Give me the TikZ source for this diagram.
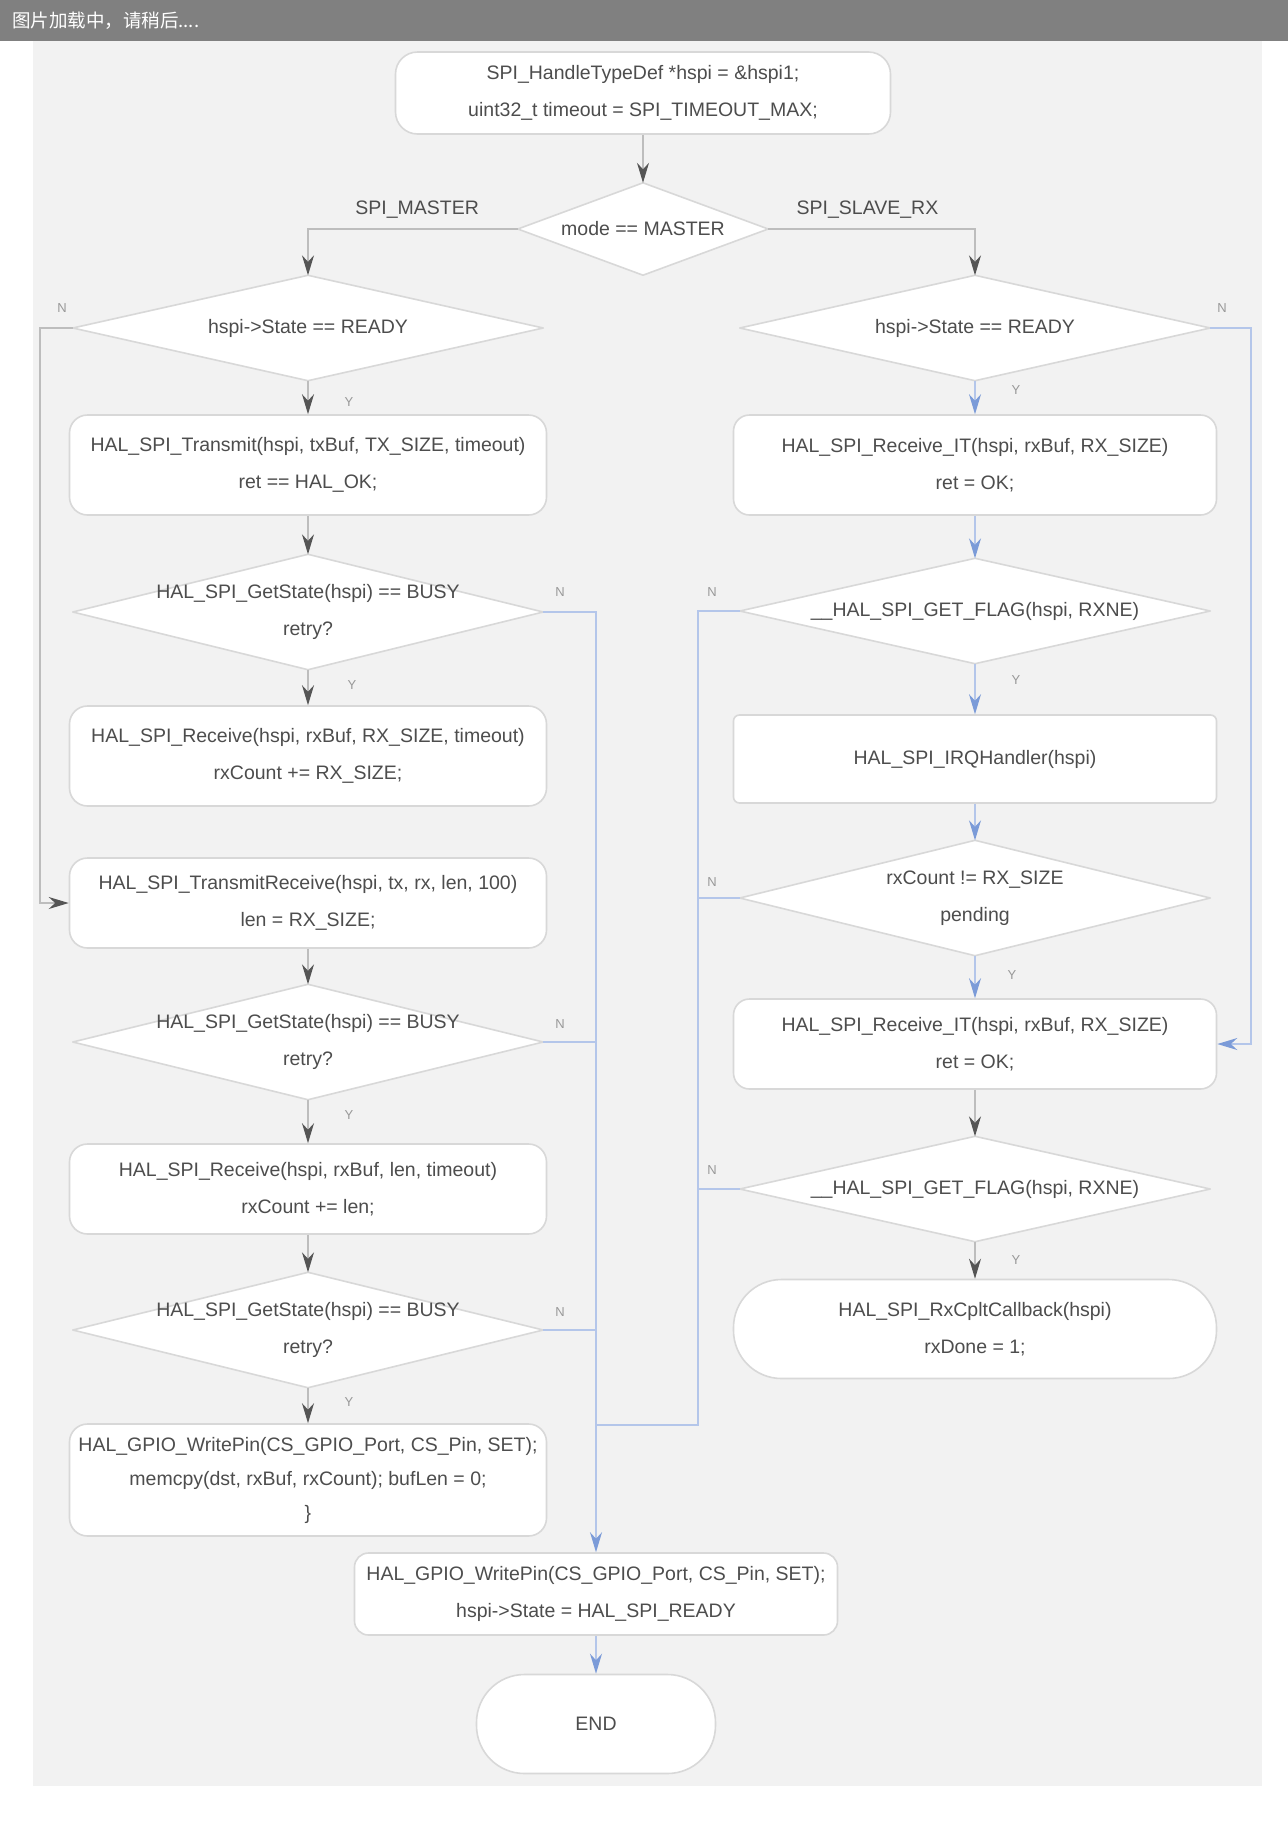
\documentclass[tikz,border=0pt]{standalone}
\usepackage{fontspec}
\setmainfont{Liberation Sans}
\newfontfamily\cjkfont{Noto Sans CJK SC}
\usetikzlibrary{arrows.meta}
\pgfdeclarelayer{bg}
\pgfsetlayers{bg,main}
\definecolor{panel}{HTML}{F2F2F2}
\definecolor{bar}{HTML}{808080}
\definecolor{bd}{HTML}{D8D8D8}
\definecolor{txt}{HTML}{4D4D4D}
\definecolor{lgray}{HTML}{BDBDBD}
\definecolor{hgray}{HTML}{555555}
\definecolor{lblue}{HTML}{B4C6EA}
\definecolor{hblue}{HTML}{7B9BD8}
\tikzset{
  base/.style={font=\fontsize{19.5}{37}\selectfont, text=txt, align=center, inner sep=4pt},
  proc/.style={base, draw=bd, fill=white, line width=1.6pt, rounded corners=18pt, minimum width=477pt},
  box/.style={base, draw=bd, fill=white, line width=1.6pt, rounded corners=6pt, minimum width=483pt},
  pill/.style={base, draw=bd, fill=white, line width=1.6pt, rounded corners=48pt},
  deci/.style={base, inner sep=0pt, minimum width=470pt, minimum height=105pt},
  rhomb/.style={draw=bd, fill=white, line width=1.6pt, line join=round},
  elab/.style={font=\fontsize{19.5}{21}\selectfont, text=txt, inner sep=2pt},
  ylab/.style={font=\fontsize{13}{15}\selectfont, text=gray!80, inner sep=1pt},
  ablk/.style={draw=lgray, line width=1.2pt, -{Stealth[length=20pt,width=12pt,color=hgray,fill=hgray]}},
  ablu/.style={draw=lblue, line width=1.2pt, -{Stealth[length=20pt,width=12pt,color=hblue,fill=hblue]}},
  lblk/.style={draw=lgray, line width=1.2pt},
  lblu/.style={draw=lblue, line width=1.2pt},
}
\begin{document}
\begin{tikzpicture}[x=1pt,y=-1pt]
\useasboundingbox (0,0) rectangle (1288,1824);
\begin{pgfonlayer}{bg}
\fill[white] (0,0) rectangle (1288,1824);
\fill[panel] (33,41) rectangle (1262,1786);
\end{pgfonlayer}
\fill[bar] (0,0) rectangle (1288,41);
\node[anchor=west, text=white, inner sep=0pt, font=\cjkfont\fontsize{18.5}{20}\selectfont] (bartext) at (12,21) {图片加载中，请稍后....};

% top
\node[proc, rounded corners=22pt, minimum width=495pt, minimum height=82pt] (T) at (643,93) {SPI\_HandleTypeDef *hspi = \&hspi1;\\uint32\_t timeout = SPI\_TIMEOUT\_MAX;};
\node[deci, minimum width=250pt, minimum height=92pt] (D0) at (643,229) {mode == MASTER};

% left column
\node[deci] (L1) at (308,328) {hspi->State == READY};
\node[proc, minimum height=100pt] (L2) at (308,465) {HAL\_SPI\_Transmit(hspi, txBuf, TX\_SIZE, timeout)\\ret == HAL\_OK;};
\node[deci, minimum height=115pt] (L3) at (308,612) {HAL\_SPI\_GetState(hspi) == BUSY\\retry?};
\node[proc, minimum height=100pt] (L4) at (308,756) {HAL\_SPI\_Receive(hspi, rxBuf, RX\_SIZE, timeout)\\rxCount += RX\_SIZE;};
\node[proc, minimum height=90pt] (L5) at (308,903) {HAL\_SPI\_TransmitReceive(hspi, tx, rx, len, 100)\\len = RX\_SIZE;};
\node[deci, minimum height=115pt] (L6) at (308,1042) {HAL\_SPI\_GetState(hspi) == BUSY\\retry?};
\node[proc, minimum height=90pt] (L7) at (308,1189) {HAL\_SPI\_Receive(hspi, rxBuf, len, timeout)\\rxCount += len;};
\node[deci, minimum height=115pt] (L7b) at (308,1330) {HAL\_SPI\_GetState(hspi) == BUSY\\retry?};
\node[proc, minimum height=112pt, font=\fontsize{19.5}{34}\selectfont] (L8) at (308,1480) {HAL\_GPIO\_WritePin(CS\_GPIO\_Port, CS\_Pin, SET);\\memcpy(dst, rxBuf, rxCount); bufLen = 0;\\\}};

% right column
\node[deci] (R1) at (975,328) {hspi->State == READY};
\node[box, rounded corners=16pt, minimum height=100pt] (R2) at (975,465) {HAL\_SPI\_Receive\_IT(hspi, rxBuf, RX\_SIZE)\\ret = OK;};
\node[deci] (R3) at (975,611) {\_\_HAL\_SPI\_GET\_FLAG(hspi, RXNE)};
\node[box, minimum height=88pt] (R4) at (975,759) {HAL\_SPI\_IRQHandler(hspi)};
\node[deci, minimum height=115pt] (R5) at (975,898) {rxCount != RX\_SIZE\\pending};
\node[box, rounded corners=16pt, minimum height=90pt] (R6) at (975,1044) {HAL\_SPI\_Receive\_IT(hspi, rxBuf, RX\_SIZE)\\ret = OK;};
\node[deci] (R7) at (975,1189) {\_\_HAL\_SPI\_GET\_FLAG(hspi, RXNE)};
\node[pill, minimum width=483pt, minimum height=99pt] (R8) at (975,1329) {HAL\_SPI\_RxCpltCallback(hspi)\\rxDone = 1;};

% bottom
\node[proc, rounded corners=14pt, minimum width=483pt, minimum height=82pt] (B1) at (596,1594) {HAL\_GPIO\_WritePin(CS\_GPIO\_Port, CS\_Pin, SET);\\hspi->State = HAL\_SPI\_READY};
\node[pill, minimum width=239pt, minimum height=99pt] (E) at (596,1724) {END};

% rhombus outlines of the decisions, behind their text
\begin{pgfonlayer}{bg}
\foreach \n in {D0,L1,L3,L6,L7b,R1,R3,R5,R7}
  \draw[rhomb] (\n.west) -- (\n.north) -- (\n.east) -- (\n.south) -- cycle;
\end{pgfonlayer}

% helper coordinates
\coordinate (cL) at (40,0);
\coordinate (cR) at (1251,0);
\coordinate (rt) at (698,0);
\coordinate (jn) at (596,1425);

% connectors
\draw[ablk] (T) -- (D0.north);
\draw[ablk] (D0.west) -| node[elab, pos=0.24, above=8pt] (la) {SPI\_MASTER} (L1.north);
\draw[ablk] (D0.east) -| node[elab, pos=0.24, above=8pt] (lb) {SPI\_SLAVE\_RX} (R1.north);

\draw[ablk] (L1.south) -- (L2);
\draw[ablk] (L1.west) -- (L1.west -| cL) -- (L5.west -| cL) -- (L5.west);
\draw[ablk] (L2) -- (L3.north);
\draw[ablk] (L3.south) -- (L4);
\draw[ablu] (L3.east) -| (B1.north);
\draw[ablk] (L5) -- (L6.north);
\draw[ablk] (L6.south) -- (L7);
\draw[lblu] (L6.east) -- (L6.east -| B1.north);
\draw[ablk] (L7) -- (L7b.north);
\draw[ablk] (L7b.south) -- (L8);
\draw[lblu] (L7b.east) -- (L7b.east -| B1.north);

\draw[ablu] (R1.south) -- (R2);
\draw[ablu] (R1.east) -- (R1.east -| cR) -- (R6.east -| cR) -- (R6.east);
\draw[ablu] (R2) -- (R3.north);
\draw[ablu] (R3.south) -- (R4);
\draw[lblu] (R3.west) -- (R3.west -| rt) -- (rt |- jn) -- (jn);
\draw[ablu] (R4) -- (R5.north);
\draw[ablu] (R5.south) -- (R6);
\draw[lblu] (R5.west) -- (R5.west -| rt);
\draw[ablk] (R6) -- (R7.north);
\draw[ablk] (R7.south) -- (R8);
\draw[lblu] (R7.west) -- (R7.west -| rt);
\draw[ablu] (B1) -- (E);

% small edge labels
\node[ylab] (y1) at (349,402) {Y};
\node[ylab] (y2) at (352,685) {Y};
\node[ylab] (y3) at (349,1115) {Y};
\node[ylab] (y4) at (349,1402) {Y};
\node[ylab] (y5) at (1016,390) {Y};
\node[ylab] (y6) at (1016,680) {Y};
\node[ylab] (y7) at (1012,975) {Y};
\node[ylab] (y8) at (1016,1260) {Y};
\node[ylab] (n1) at (62,308) {N};
\node[ylab] (n2) at (1222,308) {N};
\node[ylab] (n3) at (560,592) {N};
\node[ylab] (n4) at (560,1024) {N};
\node[ylab] (n5) at (560,1312) {N};
\node[ylab] (n6) at (712,592) {N};
\node[ylab] (n7) at (712,882) {N};
\node[ylab] (n8) at (712,1170) {N};
\end{tikzpicture}
\end{document}
